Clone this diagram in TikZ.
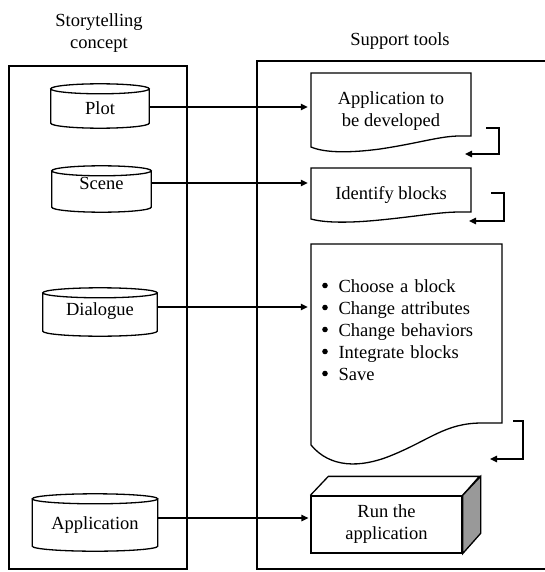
\documentclass[tikz,border=0pt]{standalone}
\usepackage{fontspec}
\setmainfont{Liberation Serif}
\usetikzlibrary{arrows.meta,calc}
\definecolor{sidegray}{gray}{0.6}
\newcommand{\itemgap}{\hspace*{17.5pt}}

\begin{document}
\begin{tikzpicture}[x=1pt, y=-1pt,
    every node/.style={font=\fontsize{18.5}{22}\selectfont},
    frame/.style={line width=1.6pt},
    shapeline/.style={line width=1.3pt},
    flow/.style={line width=1.3pt, -{Triangle[length=7pt,width=6.5pt]}},
    store/.style={inner sep=0pt},
    doc/.style={inner sep=0pt, align=center}]

\useasboundingbox (0,0) rectangle (545,572);

%% Headers
\node[align=center] (concept) at (99,33) {Storytelling\\concept};
\node (tools) at (400,41) {Support tools};

%% Frames
\draw[frame] (9,66) rectangle (187,569);
\draw[frame] (257,61) rectangle (560,569);

%% Storytelling concept (cylinders)
\node[store, minimum width=98pt, minimum height=44pt] (plot) at (100,106) {};
\node[store, minimum width=99pt, minimum height=46pt] (scene) at (101.5,189) {};
\node[store, minimum width=114pt, minimum height=48pt] (dialogue) at (100,312) {};
\node[store, minimum width=125pt, minimum height=57pt] (app) at (95,522.5) {};

\foreach \s in {plot,scene,dialogue,app}
  \draw[shapeline] let \p1=(\s.west), \p2=(\s.east), \n1={(\x2-\x1)/2} in
    ([yshift=-5pt]\s.north) ellipse [x radius=\n1, y radius=5pt]
    ([yshift=-5pt]\s.north west) -- ([yshift=5pt]\s.south west)
    arc [start angle=180, end angle=360, x radius=\n1, y radius=5pt]
    -- ([yshift=-5pt]\s.north east);

\node (plottext) at ([yshift=-2pt]plot) {Plot};
\node (scenetext) at ([yshift=6pt]scene) {Scene};
\node (dialoguetext) at ([yshift=1pt]dialogue) {Dialogue};
\node (apptext) at ([yshift=-3pt]app) {Application};

%% Support tools (documents)
\node[doc, minimum width=160pt] (doc1) at (391,111) {Application to\\be developed};
\node[doc, minimum width=160pt] (doc2) at (391,195) {Identify blocks};
\node[inner xsep=10pt, inner ysep=0pt, text width=171pt, align=left] (doc3) at (406.5,330.5)
  {\itemgap Choose a block\\
   \itemgap Change attributes\\
   \itemgap Change behaviors\\
   \itemgap Integrate blocks\\
   \itemgap Save};
\foreach \y in {285.5,307.5,329.5,351.5,373.5}
  \fill (325,\y) circle (2.8pt);

\draw[shapeline] (471,136) -- (471,73) -- (311,73) -- (311,147)
  .. controls (325,153) and (350,153) .. (380,149)
  .. controls (420,143) and (440,136) .. (460,136) -- cycle;
\draw[shapeline] (471,212) -- (471,168) -- (311,168) -- (311,219)
  .. controls (325,223) and (350,223) .. (380,220)
  .. controls (420,216) and (440,212) .. (460,212) -- cycle;
\draw[shapeline] (502,423) -- (502,244) -- (311,244) -- (311,445)
  .. controls (330,468) and (360,468) .. (390,456)
  .. controls (430,440) and (445,423) .. (482,423) -- cycle;

%% Run box
\node[shapeline, draw, inner sep=0pt, minimum width=151pt, minimum height=57pt, align=center] (run) at (386.5,524.5) {Run the\\application};
\draw[shapeline] (run.north west) -- ++(18,-19) -- ++(151,0) -- (run.north east);
\draw[shapeline, fill=sidegray] (run.north east) -- ++(18,-19) -- ++(0,57) -- (run.south east) -- cycle;

%% Connectors
\coordinate (a1) at ([yshift=-1pt]plot.east);
\coordinate (a2) at ([yshift=6pt]scene.east);
\coordinate (a3) at ([yshift=5pt]dialogue.east);
\coordinate (a4) at ([yshift=4.5pt]app.east);
\draw[flow, shorten >=3pt] (a1) -- (a1 -| doc1.west);
\draw[flow, shorten >=3pt] (a2) -- (a2 -| doc2.west);
\draw[flow, shorten >=3pt] (a3) -- (a3 -| doc3.west);
\draw[flow, shorten >=2pt] (a4) -- (a4 -| run.west);

%% Feedback loops
\coordinate (f1) at (486,128);
\coordinate (f2) at (491,193);
\coordinate (f3) at (513,421);
\draw[flow] (f1) -- ++(13,0) -- ++(0,26) -- ++(-34,0);
\draw[flow] (f2) -- ++(13,0) -- ++(0,28) -- ++(-35,0);
\draw[flow] (f3) -- ++(10,0) -- ++(0,38) -- ++(-33,0);

\end{tikzpicture}
\end{document}
